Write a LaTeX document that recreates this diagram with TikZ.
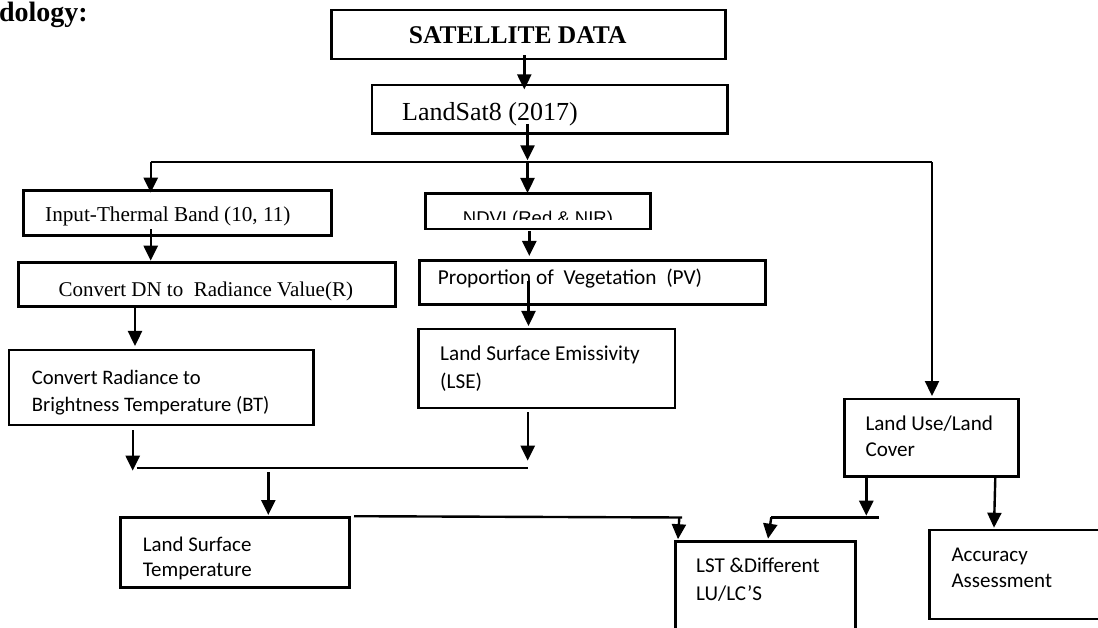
\documentclass[tikz,border=0pt]{standalone}
\usepackage{fontspec}
\setmainfont{Liberation Serif}
\newfontfamily\calfont{Carlito}
\newfontfamily\arialfont{Liberation Sans}
\usetikzlibrary{arrows.meta}
\tikzset{
  box/.style={draw, line width=2.6pt, inner sep=0pt},
  txt/.style={anchor=base west, inner sep=0pt},
  conn/.style={line width=2.4pt},
  arr/.style={conn, -{Triangle[length=15pt,width=14pt]}},
}
\newcommand{\fs}[1]{\fontsize{#1}{#1}\selectfont}
\begin{document}
\begin{tikzpicture}[x=1pt,y=-1pt]
\clip (0,0) rectangle (1098,628);
\fill[white] (0,0) rectangle (1098,628);

% heading (cropped)
\node[anchor=base east, inner sep=0pt] (tmeth) at (88,22) {\bfseries\fs{28}Methodology:};

% boxes
\node[box, minimum width=393.6pt, minimum height=49pt]   (sat)   at (528.5,34.5) {};
\node[box, minimum width=355.7pt, minimum height=48.3pt] (land)  at (549.85,109.15) {};
\node[box, minimum width=308.4pt, minimum height=45pt]   (input) at (177.5,213.2) {};
\node[box, minimum width=225pt,   minimum height=35.7pt] (ndvi)  at (537.8,211.15) {};
\node[box, minimum width=377pt,   minimum height=44.4pt] (dn)    at (206.8,284.5) {};
\node[box, minimum width=346pt,   minimum height=43.8pt] (pv)    at (592.3,282.6) {};
\node[box, minimum width=304.3pt, minimum height=75pt]   (bt)    at (161.15,387.5) {};
\node[box, minimum width=256.7pt, minimum height=79pt]   (lse)   at (546.65,368.5) {};
\node[box, minimum width=174pt,   minimum height=77.3pt] (lulc)  at (931.7,437.65) {};
\node[box, minimum width=228.6pt, minimum height=70pt]   (lst)   at (235,552.3) {};
\node[box, minimum width=180pt,   minimum height=117pt]  (diff)  at (765.3,600) {};
\node[box, minimum width=180.3pt, minimum height=89pt]   (acc)   at (1019.85,574.5) {};

% texts
\node[txt] (tsat)  at (408.7,43.3) {\bfseries\fs{25.5}SATELLITE DATA};
\node[txt] (tland) at (402,120.7) {\fs{26}LandSat8 (2017)};
\node[txt] (tin)   at (45,221.7) {\fs{21.2}Input-Thermal Band (10, 11)};
\node[txt] (tdn)   at (58.3,296.7) {\fs{21}Convert DN to~~Radiance Value(R)};
\begin{scope}
  \clip (426,195) rectangle (650,220);
  \node[txt] (tndvi) at (462.7,225) {\arialfont\fs{18.5}NDVI (Red \& NIR)};
\end{scope}
\node[txt] (tpv)   at (437.7,285) {\calfont\fs{21.3}Proportion of~~Vegetation~~(PV)};
\node[txt] (tlse1) at (440,360.7) {\calfont\fs{21.2}Land Surface Emissivity};
\node[txt] (tlse2) at (440,388.5) {\calfont\fs{21.2}(LSE)};
\node[txt] (tbt1)  at (31.7,384.7) {\calfont\fs{20.6}Convert Radiance to};
\node[txt] (tbt2)  at (31.7,411.3) {\calfont\fs{20.6}Brightness Temperature (BT)};
\node[txt] (tlst1) at (142.7,551.3) {\calfont\fs{20.9}Land Surface};
\node[txt] (tlst2) at (142.7,576.7) {\calfont\fs{20.9}Temperature};
\node[txt] (tlu1)  at (865.3,430) {\calfont\fs{21.1}Land Use/Land};
\node[txt] (tlu2)  at (865.3,456.7) {\calfont\fs{21.1}Cover};
\node[txt] (tdf1)  at (696,572.3) {\calfont\fs{21.1}LST \&Different};
\node[txt] (tdf2)  at (696,600) {\calfont\fs{21.1}LU/LC’S};
\node[txt] (tac1)  at (951.3,561.3) {\calfont\fs{21}Accuracy};
\node[txt] (tac2)  at (951.3,587.3) {\calfont\fs{21}Assessment};

% junction coordinates
\coordinate (jtop)   at (527.5,162.3);
\coordinate (jl)     at (150.7,162.3);
\coordinate (jr)     at (932,162.3);
\coordinate (mergeL) at (136.7,468);
\coordinate (mergeR) at (527.7,468);
\coordinate (mergeM) at (268.3,468);
\coordinate (lstR)   at (682,517.5);
\coordinate (m2L)    at (771.3,517.3);
\coordinate (m2R)    at (878.7,517.3);

% connectors
\draw[arr] ([shift={(-4.2,-5)}]sat.south) -- ([shift={(-25.55,5.7)}]land.north);
\draw[arr] ([shift={(-22.35,-10.6)}]land.south) -- ([shift={(0,-2)}]jtop);
\draw[conn] (jl) -- (jr);
\draw[arr] (jl) -- ([shift={(-26.8,3.3)}]input.north);
\draw[arr] (jtop) -- ([shift={(-10.3,1)}]ndvi.north);
\draw[arr] (jr) -- ([shift={(0.3,-1.7)}]lulc.north);
\draw[arr] ([shift={(-26.8,-7.7)}]input.south) -- ([shift={(-56.1,-0.3)}]dn.north);
\draw[arr] ([shift={(-71.8,0)}]dn.south) -- ([shift={(-26.15,-2.7)}]bt.north);
\draw[arr] ([shift={(-8.5,1)}]ndvi.south) -- ([shift={(-63,-3.4)}]pv.north);
\draw[arr] ([shift={(-63.8,-24.5)}]pv.south) -- ([shift={(-18.15,-1.7)}]lse.north);
\draw[arr] ([shift={(-28.45,4)}]bt.south) -- ([shift={(-4,2.7)}]mergeL);
\draw[arr] ([shift={(-18.95,2.7)}]lse.south) -- ([shift={(0,-7.3)}]mergeR);
\draw[conn] (mergeL) -- (mergeR);
\draw[arr] ([shift={(0,4.3)}]mergeM) -- ([shift={(33.3,-1)}]lst.north);
\draw[conn] ([shift={(3.4,0.2)}]lst.north east) -- (lstR);
\draw[arr] ([shift={(-2.7,0)}]lstR) -- ([shift={(4,-1)}]diff.north west);
\draw[arr] ([shift={(-65.4,-3)}]lulc.south) -- ([shift={(-12.4,-1.6)}]m2R);
\draw[conn] (m2L) -- (m2R);
\draw[arr] (m2L) -- ([shift={(2.7,-1.5)}]diff.north);
\draw[arr] ([shift={(63.6,0)}]lulc.south) -- ([shift={(65.6,-1)}]acc.north west);
\end{tikzpicture}
\end{document}
